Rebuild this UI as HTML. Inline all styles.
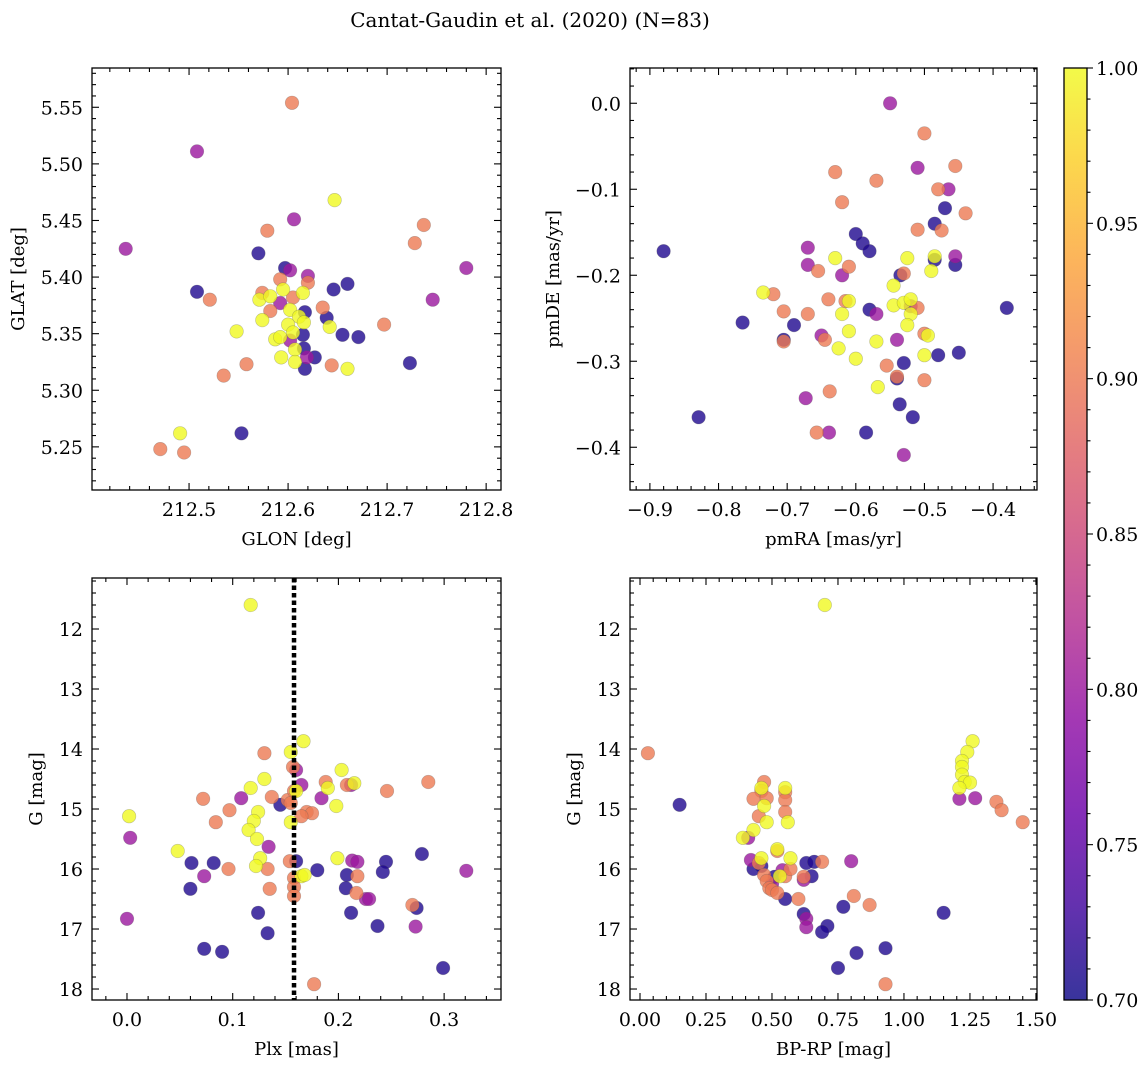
<!DOCTYPE html>
<html><head><meta charset="utf-8"><style>
html,body{margin:0;padding:0;background:#fff;}
svg{display:block;font-family:"DejaVu Serif","Liberation Serif",serif;}
</style></head><body>
<svg id="fig" width="1148" height="1067" viewBox="0 0 1148 1067" xmlns="http://www.w3.org/2000/svg">
<defs>
<linearGradient id="plasma" x1="0" y1="1" x2="0" y2="0">
<stop offset="0" stop-color="#0d0887"/><stop offset="0.1" stop-color="#41049d"/><stop offset="0.2" stop-color="#6a00a8"/><stop offset="0.3" stop-color="#8f0da4"/><stop offset="0.4" stop-color="#b12a90"/><stop offset="0.5" stop-color="#cc4778"/><stop offset="0.6" stop-color="#e16462"/><stop offset="0.7" stop-color="#f2844b"/><stop offset="0.8" stop-color="#fca636"/><stop offset="0.9" stop-color="#fcce25"/><stop offset="1" stop-color="#f0f921"/>
</linearGradient>
</defs>
<text x="530" y="27" text-anchor="middle" font-size="20">Cantat-Gaudin et al. (2020) (N=83)</text>
</svg>
<script>
// ---- Panel 1: GLON / GLAT ----
const glon = [212.570,212.597,212.602,212.620,212.592,212.620,212.508,212.521,212.646,212.660,212.574,212.571,212.582,212.595,212.615,212.605,212.592,212.602,212.582,212.617,212.635,212.639,212.611,212.616,212.642,212.574,212.600,212.605,212.615,212.655,212.671,212.548,212.587,212.592,212.602,212.607,212.616,212.593,212.607,212.619,212.627,212.617,212.644,212.660,212.558,212.535,212.604,212.508,212.436,212.606,212.647,212.737,212.728,212.579,212.780,212.746,212.697,212.723,212.553,212.491,212.471,212.495];
const glat = [5.421,5.408,5.406,5.401,5.398,5.395,5.387,5.380,5.389,5.394,5.386,5.380,5.383,5.389,5.386,5.382,5.377,5.371,5.370,5.369,5.373,5.364,5.365,5.360,5.356,5.362,5.358,5.351,5.349,5.349,5.347,5.352,5.345,5.347,5.344,5.336,5.337,5.329,5.325,5.329,5.329,5.319,5.322,5.319,5.323,5.313,5.554,5.511,5.425,5.451,5.468,5.446,5.430,5.441,5.408,5.380,5.358,5.324,5.262,5.262,5.248,5.245];
const prob1 = [0.71,0.71,0.8,0.8,0.9,0.9,0.71,0.9,0.71,0.71,0.9,1,1,1,1,0.9,0.8,1,0.9,0.71,0.9,0.71,1,1,1,1,1,1,0.71,0.71,0.71,1,1,1,0.8,1,0.71,1,1,0.8,0.71,0.71,0.9,1,0.9,0.9,0.9,0.8,0.8,0.8,1,0.9,0.9,0.9,0.8,0.8,0.9,0.71,0.71,1,0.9,0.9];
// ---- Panel 2: pmRA / pmDE ----
const pmra = [-0.55,-0.50,-0.51,-0.455,-0.63,-0.57,-0.465,-0.48,-0.44,-0.62,-0.88,-0.60,-0.59,-0.58,-0.47,-0.485,-0.475,-0.51,-0.63,-0.61,-0.62,-0.67,-0.455,-0.485,-0.455,-0.525,-0.485,-0.535,-0.53,-0.49,-0.735,-0.72,-0.67,-0.655,-0.61,-0.615,-0.545,-0.62,-0.545,-0.53,-0.52,-0.51,-0.52,-0.52,-0.64,-0.58,-0.57,-0.525,-0.765,-0.69,-0.705,-0.67,-0.61,-0.65,-0.645,-0.705,-0.705,-0.625,-0.60,-0.57,-0.54,-0.50,-0.495,-0.38,-0.45,-0.48,-0.50,-0.53,-0.555,-0.54,-0.54,-0.50,-0.568,-0.638,-0.673,-0.536,-0.517,-0.829,-0.657,-0.639,-0.585,-0.530];
const pmde = [0.000,-0.035,-0.075,-0.073,-0.080,-0.090,-0.100,-0.100,-0.128,-0.115,-0.172,-0.152,-0.163,-0.172,-0.122,-0.140,-0.148,-0.147,-0.180,-0.190,-0.200,-0.168,-0.178,-0.182,-0.188,-0.180,-0.178,-0.200,-0.198,-0.195,-0.220,-0.222,-0.188,-0.195,-0.230,-0.230,-0.212,-0.245,-0.235,-0.232,-0.228,-0.238,-0.236,-0.245,-0.228,-0.240,-0.245,-0.258,-0.255,-0.258,-0.242,-0.245,-0.265,-0.270,-0.275,-0.275,-0.277,-0.285,-0.297,-0.277,-0.275,-0.268,-0.270,-0.238,-0.290,-0.293,-0.293,-0.302,-0.305,-0.318,-0.320,-0.322,-0.330,-0.335,-0.343,-0.350,-0.365,-0.365,-0.383,-0.383,-0.383,-0.409];
const prob2 = [0.8,0.9,0.8,0.9,0.9,0.9,0.8,0.9,0.9,0.9,0.71,0.71,0.71,0.71,0.71,0.71,0.9,0.9,1,0.9,0.8,0.8,0.8,0.71,0.71,1,1,0.71,0.9,1,1,0.9,0.8,0.9,1,0.9,1,1,1,1,1,0.9,0.8,1,0.9,0.71,0.8,1,0.71,0.71,0.9,0.9,1,0.8,0.9,0.71,0.9,1,1,1,0.8,0.9,1,0.71,0.71,0.71,1,0.71,0.9,0.9,0.71,0.9,1,0.9,0.8,0.71,0.71,0.71,0.9,0.8,0.71,0.8];
// ---- Panel 3: Plx / G ----
const plx = [0.117,0.167,0.130,0.155,0.203,0.188,0.285,0.215,0.130,0.157,0.072,0.108,0.117,0.160,0.137,0.145,0.152,0.155,0.165,0.160,0.158,0.208,0.212,0.198,0.184,0.190,0.246,0.170,0.175,0.165,0.002,0.003,0.084,0.124,0.120,0.115,0.123,0.097,0.096,0.048,0.134,0.155,0.126,0.122,0.133,0.061,0.082,0.060,0.073,0.154,0.160,0.158,0.158,0.158,0.165,0.168,0.180,0.135,0.133,0.124,0.199,0.208,0.207,0.218,0.217,0.213,0.218,0.226,0.229,0.245,0.242,0.212,0.237,0.270,0.274,0.273,0.279,0.321,0.299,0.000,0.073,0.090,0.177];
const gmag3 = [11.60,13.87,14.07,14.05,14.35,14.55,14.55,14.57,14.50,14.30,14.83,14.82,14.65,14.70,14.80,14.93,14.85,14.90,14.60,14.35,14.70,14.60,14.60,14.95,14.82,14.65,14.70,15.05,15.07,15.12,15.12,15.48,15.22,15.05,15.20,15.35,15.50,15.02,16.00,15.70,15.63,15.22,15.82,15.95,16.00,15.90,15.90,16.33,16.12,15.87,15.87,16.15,16.30,16.45,16.12,16.10,16.02,16.33,17.07,16.73,15.82,16.10,16.32,16.12,16.40,15.86,15.88,16.50,16.50,15.88,16.05,16.73,16.95,16.60,16.65,16.96,15.75,16.03,17.65,16.83,17.33,17.38,17.92];
const prob3 = [1,1,0.9,1,1,0.9,0.9,1,1,0.9,0.9,0.8,1,1,0.9,0.71,0.9,0.9,0.8,0.8,0.9,0.9,0.8,1,0.8,1,0.9,0.9,0.9,0.9,1,0.8,0.9,1,1,1,1,0.9,0.9,1,0.8,1,1,1,0.9,0.71,0.71,0.71,0.8,0.9,0.71,0.9,0.9,0.9,1,1,0.71,0.9,0.71,0.71,1,0.71,0.71,0.9,0.9,0.8,0.8,0.8,0.8,0.71,0.71,0.71,0.71,0.9,0.71,0.8,0.71,0.8,0.71,0.8,0.71,0.71,0.9];
const plxLine = [0.158];
// ---- Panel 4: BP-RP / G ----
const bprp = [0.70,0.03,0.15,1.26,1.24,1.22,1.22,1.22,1.23,1.25,1.21,1.21,1.27,1.35,1.37,1.45,0.47,0.46,0.46,0.47,0.43,0.48,0.55,0.55,0.55,0.55,0.56,0.45,0.43,0.39,0.41,0.48,0.52,0.52,0.46,0.57,0.45,0.42,0.43,0.46,0.47,0.48,0.49,0.50,0.52,0.50,0.55,0.53,0.54,0.57,0.60,0.55,0.51,0.63,0.66,0.69,0.65,0.62,0.62,0.80,0.62,0.63,0.63,0.71,0.69,0.77,0.81,0.87,0.82,0.93,0.75,0.93,1.15];
const gmag4 = [11.60,14.07,14.93,13.87,14.05,14.20,14.30,14.43,14.55,14.56,14.65,14.83,14.82,14.88,15.02,15.22,14.55,14.70,14.65,14.95,14.83,14.82,14.65,14.72,14.85,15.05,15.22,15.12,15.35,15.48,15.48,15.22,15.67,15.70,15.82,15.82,15.90,15.85,16.00,15.95,16.10,16.20,16.32,16.35,16.40,16.25,16.12,16.12,16.02,16.00,16.50,16.50,16.13,15.90,15.88,15.88,16.12,16.18,16.13,15.87,16.75,16.83,16.97,16.95,17.05,16.63,16.45,16.60,17.40,17.32,17.65,17.92,16.73];
const prob4 = [1,0.9,0.71,1,1,1,1,1,1,1,1,0.8,0.8,0.9,0.9,0.9,0.9,0.9,1,1,0.9,0.9,1,0.9,0.9,0.9,1,0.9,1,1,0.8,1,1,0.9,1,1,0.9,0.8,0.71,0.71,0.9,0.9,0.9,0.9,0.9,0.8,0.9,1,0.8,0.9,0.9,0.71,0.71,0.71,0.71,0.9,0.71,0.8,0.9,0.8,0.71,0.8,0.8,0.71,0.71,0.71,0.9,0.9,0.71,0.71,0.71,0.9,0.71];
// ---- tick labels ----
const p1XTicks = [212.5,212.6,212.7,212.8];
const p1YTicks = [5.25,5.30,5.35,5.40,5.45,5.50,5.55];
const p2XTicks = [-0.9,-0.8,-0.7,-0.6,-0.5,-0.4];
const p2YTicks = [0.0,-0.1,-0.2,-0.3,-0.4];
const p3XTicks = [0.0,0.1,0.2,0.3];
const gTicks = [12,13,14,15,16,17,18];
const p4XTicks = [0.00,0.25,0.50,0.75,1.00,1.25,1.50];
const cbTicks = [0.70,0.75,0.80,0.85,0.90,0.95,1.00];

const NS = "http://www.w3.org/2000/svg";
const svg = document.getElementById('fig');
const stops = [[0,[13,8,135]],[0.1,[65,4,157]],[0.2,[106,0,168]],[0.3,[143,13,164]],[0.4,[177,42,144]],[0.5,[204,71,120]],[0.6,[225,100,98]],[0.7,[242,132,75]],[0.8,[252,166,54]],[0.9,[252,206,37]],[1,[240,249,33]]];
function plasma(t){
  t=Math.max(0,Math.min(1,t));
  for(let i=1;i<stops.length;i++){
    if(t<=stops[i][0]){
      const a=stops[i-1],b=stops[i],f=(t-a[0])/(b[0]-a[0]);
      const c=a[1].map((v,k)=>Math.round(v+(b[1][k]-v)*f));
      return `rgb(${c[0]},${c[1]},${c[2]})`;
    }
  }
  return 'rgb(240,249,33)';
}
function mk(tag,attrs,parent){
  const e=document.createElementNS(NS,tag);
  for(const k in attrs) e.setAttribute(k,attrs[k]);
  (parent||svg).appendChild(e); return e;
}
function fmt(v,d){ const s=Math.abs(v).toFixed(d); return (v<-1e-9?'\u2212':'')+s; }

function panel(c){
  const g=mk('g',{});
  
  
  const sx=v=>c.x0+(v-c.xa)/(c.xb-c.xa)*c.w;
  const sy=v=>c.y0+(v-c.ya)/(c.yb-c.ya)*c.h;
  const idx=c.xs.map((_,i)=>i).filter(i=>i<c.ys.length&&i<c.ps.length).sort((a,b)=>c.ps[a]-c.ps[b]);
  const pg=mk('g',{},g);
  
  
  idx.forEach(i=>{
    const t=(c.ps[i]-0.7)/0.3;
    const pt=mk('circle',{cx:sx(c.xs[i]).toFixed(1),cy:sy(c.ys[i]).toFixed(1),r:6.8,fill:plasma(t),'fill-opacity':0.8,stroke:'#555','stroke-opacity':0.35,'stroke-width':0.6},pg);
    
    
  });
  if(c.extra) c.extra(g,sx,sy);
  const fr=mk('rect',{x:c.x0,y:c.y0,width:c.w,height:c.h,fill:'none',stroke:'#000','stroke-width':1.3},g);
  
  
  const tk=mk('g',{stroke:'#000','stroke-width':1.1},g);
  const xlo=Math.min(c.xa,c.xb), xhi=Math.max(c.xa,c.xb), ylo=Math.min(c.ya,c.yb), yhi=Math.max(c.ya,c.yb);
  for(let v=Math.ceil(xlo/c.xm-1e-6)*c.xm; v<=xhi+1e-9; v+=c.xm){
    const X=sx(v); const major=c.xt.some(t=>Math.abs(t-v)<c.xm/3); const L=major?7:4;
    mk('line',{x1:X,x2:X,y1:c.y0+c.h,y2:c.y0+c.h-L},tk); mk('line',{x1:X,x2:X,y1:c.y0,y2:c.y0+L},tk);
  }
  for(let v=Math.ceil(ylo/c.ym-1e-6)*c.ym; v<=yhi+1e-9; v+=c.ym){
    const Y=sy(v); const major=c.yt.some(t=>Math.abs(t-v)<c.ym/3); const L=major?7:4;
    mk('line',{x1:c.x0,x2:c.x0+L,y1:Y,y2:Y},tk); mk('line',{x1:c.x0+c.w,x2:c.x0+c.w-L,y1:Y,y2:Y},tk);
  }
  c.xt.forEach(v=>{
    const t=mk('text',{x:sx(v),y:c.y0+c.h+26,'text-anchor':'middle','font-size':19},g);
    t.textContent=fmt(v,c.xd);
    
    
  });
  c.yt.forEach(v=>{
    const t=mk('text',{x:c.x0-9,y:sy(v)+7,'text-anchor':'end','font-size':19},g);
    t.textContent=fmt(v,c.yd);
    
    
  });
  const xl=mk('text',{x:c.x0+c.w/2,y:c.y0+c.h+55,'text-anchor':'middle','font-size':18},g);
  xl.textContent=c.xlabel;
  
  
  const yl=mk('text',{x:0,y:0,'text-anchor':'middle','font-size':18,transform:`translate(${c.ylx},${c.y0+c.h/2}) rotate(-90)`},g);
  yl.textContent=c.ylabel;
  
  
}

panel({name:'glon-glat-panel',x0:92,y0:68,w:409,h:422,xa:212.402,xb:212.815,ya:5.5847,yb:5.2119,xs:glon,ys:glat,ps:prob1,xt:p1XTicks,yt:p1YTicks,xm:0.02,ym:0.01,xd:1,yd:2,xlabel:'GLON [deg]',ylabel:'GLAT [deg]',ylx:24});
panel({name:'pm-panel',x0:630,y0:68,w:407,h:422,xa:-0.929,xb:-0.336,ya:0.041,yb:-0.4497,xs:pmra,ys:pmde,ps:prob2,xt:p2XTicks,yt:p2YTicks,xm:0.02,ym:0.02,xd:1,yd:1,xlabel:'pmRA [mas/yr]',ylabel:'pmDE [mas/yr]',ylx:559});
panel({name:'plx-g-panel',x0:92,y0:578,w:409,h:422,xa:-0.0331,xb:0.3538,ya:11.15,yb:18.183,xs:plx,ys:gmag3,ps:prob3,xt:p3XTicks,yt:gTicks,xm:0.02,ym:0.2,xd:1,yd:0,xlabel:'Plx [mas]',ylabel:'G [mag]',ylx:42,
  extra:(g,sx,sy)=>{ plxLine.forEach(v=>{ const l=mk('line',{x1:sx(v),x2:sx(v),y1:578,y2:1000,stroke:'#000','stroke-width':4.5,'stroke-dasharray':'4.5,3'},g);
    
     }); }});
panel({name:'cmd-panel',x0:630,y0:578,w:407,h:422,xa:-0.0379,xb:1.504,ya:11.15,yb:18.183,xs:bprp,ys:gmag4,ps:prob4,xt:p4XTicks,yt:gTicks,xm:0.05,ym:0.2,xd:2,yd:0,xlabel:'BP-RP [mag]',ylabel:'G [mag]',ylx:580});

const cb=mk('g',{});


const cbx=1064,cby=68,cbw=23,cbh=932;
mk('rect',{x:cbx,y:cby,width:cbw,height:cbh,fill:'url(#plasma)','fill-opacity':0.82},cb);
mk('rect',{x:cbx,y:cby,width:cbw,height:cbh,fill:'none',stroke:'#000','stroke-width':1.3},cb);
const csy=v=>cby+(1.0-v)/0.3*cbh;
for(let k=0;k<=30;k++){
  const v=0.7+k*0.01, Y=csy(v), major=(k%5===0);
  mk('line',{x1:cbx+cbw,x2:cbx+cbw+(major?6:3.5),y1:Y,y2:Y,stroke:'#000','stroke-width':1.1},cb);
}
cbTicks.forEach(v=>{
  const t=mk('text',{x:cbx+cbw+9,y:csy(v)+7,'font-size':19},cb);
  t.textContent=v.toFixed(2);
  
  
});
</script>
</body></html>
